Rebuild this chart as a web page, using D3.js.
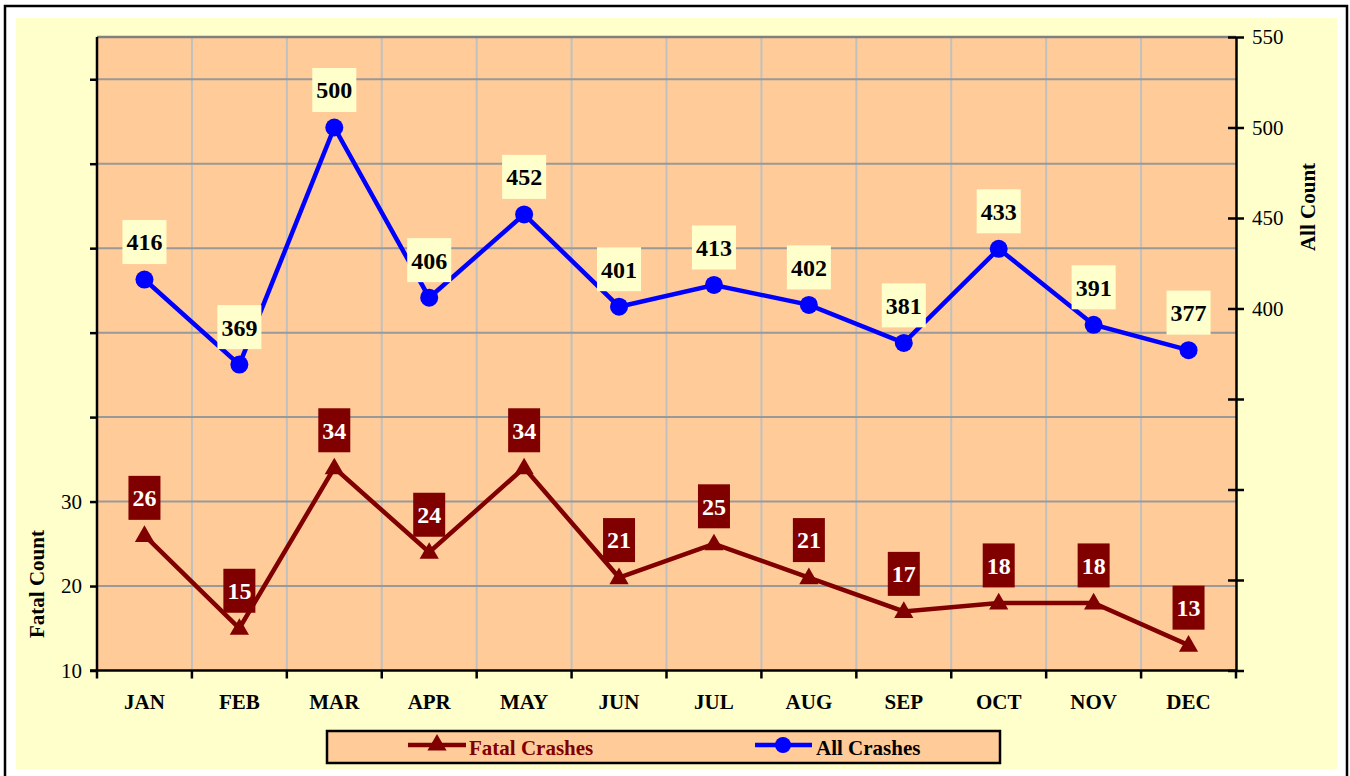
<!DOCTYPE html>
<html>
<head>
  <meta charset="UTF-8">
  <title>Fatal and All Crashes by Month</title>
  <script src="https://cdn.jsdelivr.net/npm/d3@7"></script>
  <style>
    body { margin: 0; background: #ffffff; }
    text { font-family: "Liberation Serif", "Times New Roman", serif; }
    .axis path, .axis line { stroke: #000; stroke-width: 2.5px; }
    .axis text { font-size: 21px; fill: #000; }
  </style>
</head>
<body>
<svg id="chart" width="1350" height="776"></svg>
<script>
  // data
  var months = ['JAN','FEB','MAR','APR','MAY','JUN','JUL','AUG','SEP','OCT','NOV','DEC'];
  var fatalCrashes = [26, 15, 34, 24, 34, 21, 25, 21, 17, 18, 18, 13];
  var allCrashes = [416, 369, 500, 406, 452, 401, 413, 402, 381, 433, 391, 377];
  var fatalTicks = [10, 20, 30, 40, 50, 60, 70, 80];
  var fatalTickLabels = [10, 20, 30];
  var allTicks = [200, 250, 300, 350, 400, 450, 500, 550];
  var allTickLabels = [400, 450, 500, 550];

  var red = '#800000', blue = '#0000ff';
  var plot = {left: 97, right: 1236, top: 37, bottom: 670.5};

  var svg = d3.select('#chart');

  // outer frame + chart background
  svg.append('rect').attr('x', 5).attr('y', 6).attr('width', 1342).attr('height', 800)
    .attr('fill', '#fff').attr('stroke', '#000').attr('stroke-width', 2.5);
  svg.append('rect').attr('x', 16).attr('y', 18).attr('width', 1321).attr('height', 751)
    .attr('fill', '#ffffcc');

  var x = d3.scaleBand().domain(months).range([plot.left, plot.right]).padding(0);
  var yL = d3.scaleLinear().domain([10, 85]).range([plot.bottom, plot.top]);
  var yR = d3.scaleLinear().domain([200, 550]).range([plot.bottom, plot.top]);
  var cx = function(i) { return x(months[i]) + x.bandwidth() / 2; };

  // plot area
  svg.append('rect').attr('x', plot.left).attr('y', plot.top)
    .attr('width', plot.right - plot.left).attr('height', plot.bottom - plot.top)
    .attr('fill', '#ffcc99');

  // vertical grid at category boundaries
  svg.append('g').selectAll('line').data(months.slice(1)).join('line')
    .attr('x1', function(d) { return x(d); }).attr('x2', function(d) { return x(d); })
    .attr('y1', plot.top).attr('y2', plot.bottom)
    .attr('stroke', '#c0c0c0').attr('stroke-width', 2);

  // horizontal grid from the fatal axis
  svg.append('g').selectAll('line').data(fatalTicks.slice(1)).join('line')
    .attr('x1', plot.left).attr('x2', plot.right)
    .attr('y1', function(d) { return yL(d); }).attr('y2', function(d) { return yL(d); })
    .attr('stroke', '#999999').attr('stroke-width', 2);

  svg.append('line').attr('x1', plot.left).attr('x2', plot.right)
    .attr('y1', plot.top).attr('y2', plot.top)
    .attr('stroke', '#808080').attr('stroke-width', 2.5);

  // axes
  var gL = svg.append('g').attr('class', 'axis').attr('transform', 'translate(' + plot.left + ',0)')
    .call(d3.axisLeft(yL).tickValues(fatalTicks).tickSizeInner(7).tickSizeOuter(0).tickPadding(8)
      .tickFormat(function(d) { return fatalTickLabels.indexOf(d) >= 0 ? d : ''; }));
  gL.select('.domain').attr('d', 'M0,' + plot.top + 'V' + plot.bottom);

  var gR = svg.append('g').attr('class', 'axis').attr('transform', 'translate(' + plot.right + ',0)')
    .call(d3.axisRight(yR).tickValues(allTicks).tickSizeOuter(0)
      .tickFormat(function(d) { return allTickLabels.indexOf(d) >= 0 ? d : ''; }));
  gR.selectAll('.tick line').attr('x1', -8).attr('x2', 8);
  gR.selectAll('.tick text').attr('x', 16);

  var gB = svg.append('g').attr('class', 'axis').attr('transform', 'translate(0,' + plot.bottom + ')')
    .call(d3.axisBottom(x).tickSize(0));
  gB.selectAll('.tick text').attr('font-weight', 'bold').attr('dy', '0.71em').attr('y', 24);
  gB.select('.domain').attr('d', 'M' + (plot.left - 7) + ',0H' + plot.right);
  gB.selectAll('.bound').data(months.concat(['end'])).join('line').attr('class', 'bound')
    .attr('x1', function(d) { return d === 'end' ? plot.right : x(d); })
    .attr('x2', function(d) { return d === 'end' ? plot.right : x(d); })
    .attr('y1', 0).attr('y2', 8);

  // axis titles
  svg.append('text').attr('transform', 'translate(37,584)rotate(-90)')
    .attr('text-anchor', 'middle').attr('dominant-baseline', 'central')
    .attr('font-size', 21).attr('font-weight', 'bold').text('Fatal Count');
  svg.append('text').attr('transform', 'translate(1308,207)rotate(-90)')
    .attr('text-anchor', 'middle').attr('dominant-baseline', 'central')
    .attr('font-size', 21).attr('font-weight', 'bold').text('All Count');

  // lines
  var lineAll = d3.line().x(function(d, i) { return cx(i); }).y(function(d) { return yR(d); });
  var lineFatal = d3.line().x(function(d, i) { return cx(i); }).y(function(d) { return yL(d); });

  svg.append('path').datum(allCrashes).attr('d', lineAll)
    .attr('fill', 'none').attr('stroke', blue).attr('stroke-width', 4.5);
  svg.append('path').datum(fatalCrashes).attr('d', lineFatal)
    .attr('fill', 'none').attr('stroke', red).attr('stroke-width', 4.5);

  var tri = d3.symbol().type(d3.symbolTriangle).size(160);

  svg.append('g').selectAll('circle').data(allCrashes).join('circle')
    .attr('cx', function(d, i) { return cx(i); }).attr('cy', function(d) { return yR(d); })
    .attr('r', 9).attr('fill', blue);
  svg.append('g').selectAll('path').data(fatalCrashes).join('path')
    .attr('d', tri)
    .attr('transform', function(d, i) { return 'translate(' + cx(i) + ',' + (yL(d) + 1) + ')'; })
    .attr('fill', red);

  // data labels
  function labels(data, yScale, boxFill, textFill) {
    var g = svg.append('g').selectAll('g').data(data).join('g')
      .attr('transform', function(d, i) { return 'translate(' + cx(i) + ',' + (yScale(d) - 37.5) + ')'; });
    var rect = g.append('rect').attr('fill', boxFill);
    var txt = g.append('text').attr('text-anchor', 'middle').attr('dy', '0.35em')
      .attr('font-size', 24).attr('font-weight', 'bold').attr('fill', textFill)
      .text(function(d) { return d; });
    txt.each(function() {
      var w = this.getComputedTextLength() + 8;
      d3.select(this.previousSibling).attr('x', -w / 2).attr('width', w).attr('y', -22).attr('height', 44);
    });
  }
  labels(allCrashes, yR, '#ffffcc', '#000');
  labels(fatalCrashes, yL, red, '#fff');

  // legend
  var lg = svg.append('g');
  lg.append('rect').attr('x', 327).attr('y', 731).attr('width', 673).attr('height', 32)
    .attr('fill', '#ffcc99').attr('stroke', '#000').attr('stroke-width', 2.5);
  lg.append('line').attr('x1', 408).attr('x2', 466).attr('y1', 745).attr('y2', 745)
    .attr('stroke', red).attr('stroke-width', 4.5);
  lg.append('path').attr('d', tri).attr('transform', 'translate(437,745)').attr('fill', red);
  lg.append('text').attr('x', 469).attr('y', 748).attr('dominant-baseline', 'central')
    .attr('font-size', 21).attr('font-weight', 'bold').attr('fill', red).text('Fatal Crashes');
  lg.append('line').attr('x1', 755).attr('x2', 812).attr('y1', 745).attr('y2', 745)
    .attr('stroke', blue).attr('stroke-width', 4.5);
  lg.append('circle').attr('cx', 783).attr('cy', 745).attr('r', 8).attr('fill', blue);
  lg.append('text').attr('x', 816).attr('y', 748).attr('dominant-baseline', 'central')
    .attr('font-size', 21).attr('font-weight', 'bold').attr('fill', '#000').text('All Crashes');
</script>
</body>
</html>
